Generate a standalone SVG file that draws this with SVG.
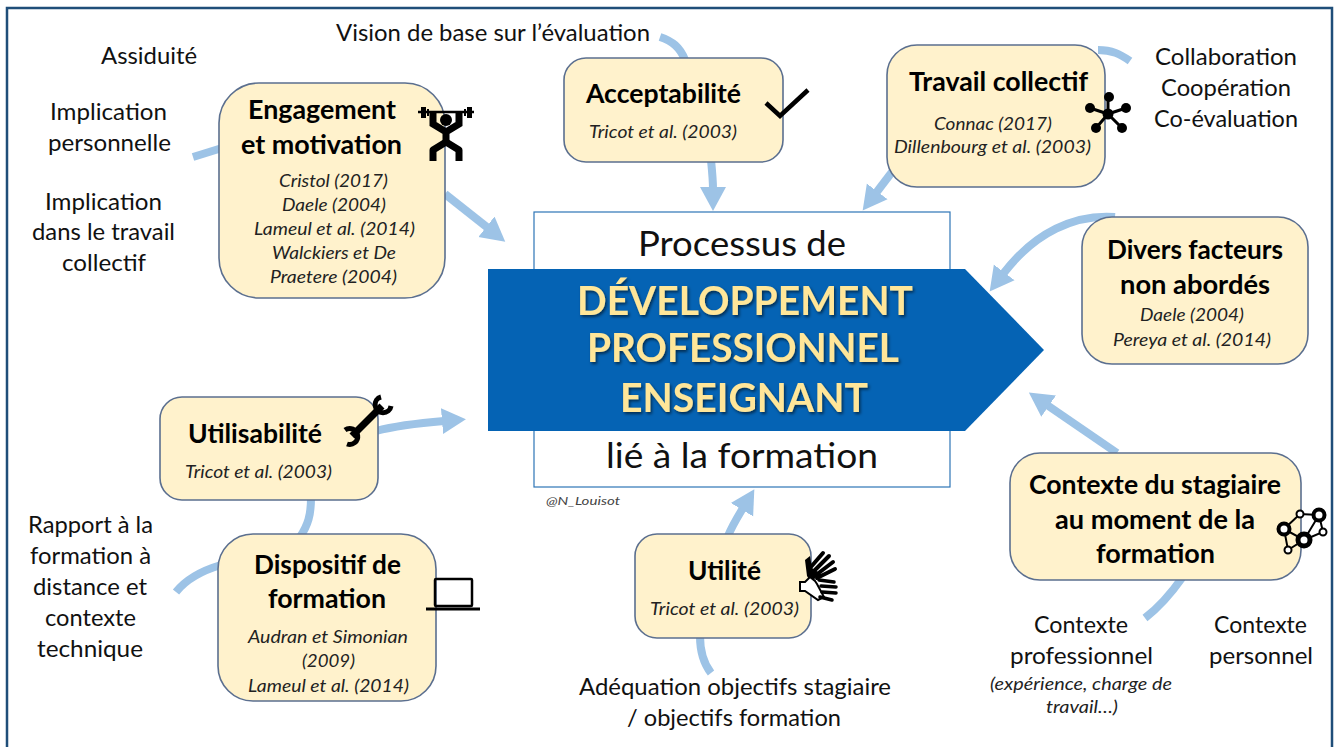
<svg xmlns="http://www.w3.org/2000/svg" width="1334" height="747" viewBox="0 0 1334 747">
<style>
text{font-family:Lato,"Noto Sans",sans-serif;fill:#111}
.t{font-size:24px}
.b{font-size:26px;font-weight:700;fill:#000}
.r{font-size:17px;font-style:italic;fill:#222}
.h{font-size:40px;font-weight:700;fill:#ffe699;filter:url(#sh)}
.big{font-size:34px}
.box{fill:#fff2cc;stroke:#5b6f8f;stroke-width:1.6}
.c{fill:none;stroke:#9dc3e6;stroke-width:8}
.a{marker-end:url(#ah)}
.i{fill:#000;stroke:none}
.l{fill:none;stroke:#000}
</style>
<defs>
<marker id="ah" markerUnits="userSpaceOnUse" markerWidth="26" markerHeight="28" refX="2" refY="14" orient="auto"><path d="M0 1L24 14L0 27Z" fill="#9dc3e6"/></marker>
<filter id="sh" x="-5%" y="-15%" width="110%" height="135%"><feDropShadow dx="1.5" dy="2" stdDeviation="1.5" flood-color="#000" flood-opacity=".55"/></filter>
</defs>
<rect width="1334" height="747" fill="#fff"/>
<rect x="7" y="8" width="1325" height="760" fill="none" stroke="#1f4e79" stroke-width="2.5"/>
<g id="connectors">
<path class="c" d="M193 157L222 148"/>
<path class="c a" d="M445 194L488 228"/>
<path class="c" d="M660 37C672 41 680 47 685 60"/>
<path class="c a" d="M711 160C712 170 713 180 713 189"/>
<path class="c a" d="M892 172L876 193"/>
<path class="c" d="M1098 50C1112 50 1120 54 1130 61"/>
<path class="c a" d="M1115 217C1075 214 1035 232 1003 274"/>
<path class="c a" d="M1117 453L1047 405"/>
<path class="c" d="M1182 578C1170 595 1158 608 1145 618"/>
<path class="c a" d="M728 536C732 526 737 518 743 508"/>
<path class="c" d="M700 636C700 652 704 664 711 673"/>
<path class="c a" d="M376 431C395 426 420 423 444 421"/>
<path class="c" d="M311 498C311 515 308 525 300 537"/>
<path class="c" d="M176 592C188 577 204 570 221 565"/>
</g>
<g id="central">
<rect x="534" y="212" width="416" height="275" fill="#fff" stroke="#2e75b6" stroke-width="1.2"/>
<text class="big" x="638" y="256" textLength="208" lengthAdjust="spacingAndGlyphs">Processus de</text>
<text class="big" x="606" y="468" textLength="272" lengthAdjust="spacingAndGlyphs">lié à la formation</text>
<path d="M488 269H965L1044 350L965 431H488Z" fill="#0563b4"/>
<text class="h" x="577" y="315" textLength="336" lengthAdjust="spacingAndGlyphs">DÉVELOPPEMENT</text>
<text class="h" x="587" y="362" textLength="312" lengthAdjust="spacingAndGlyphs">PROFESSIONNEL</text>
<text class="h" x="620" y="412" textLength="248" lengthAdjust="spacingAndGlyphs">ENSEIGNANT</text>
<text x="546" y="505" textLength="74" lengthAdjust="spacingAndGlyphs" style="font-size:12px;font-style:italic;fill:#444">@N_Louisot</text>
</g>
<g id="node-engagement">
<rect class="box" x="219" y="83" width="226" height="215" rx="40"/>
<text class="b" x="248" y="119" textLength="148" lengthAdjust="spacingAndGlyphs">Engagement</text>
<text class="b" x="241" y="154" textLength="161" lengthAdjust="spacingAndGlyphs">et motivation</text>
<text class="r" x="279" y="187" textLength="109" lengthAdjust="spacingAndGlyphs">Cristol (2017)</text>
<text class="r" x="282" y="211" textLength="104" lengthAdjust="spacingAndGlyphs">Daele (2004)</text>
<text class="r" x="254" y="235" textLength="161" lengthAdjust="spacingAndGlyphs">Lameul et al. (2014)</text>
<text class="r" x="272" y="259" textLength="124" lengthAdjust="spacingAndGlyphs">Walckiers et De</text>
<text class="r" x="270" y="283" textLength="127" lengthAdjust="spacingAndGlyphs">Praetere (2004)</text>
<g id="icon-lifter">
<path class="l" stroke-width="2.5" d="M418 112H474"/>
<path class="i" d="M421 107h5v11h-5zM467 107h5v11h-5zM427 109h2v7h-2zM464 109h2v7h-2z"/>
<circle class="i" cx="446" cy="120" r="6"/>
<path class="l" stroke-width="7" d="M433 113V124L446 132L459 124V113M446 130V144"/>
<path class="l" stroke-width="7" stroke-linejoin="round" d="M433 161V150L446 142L459 150V161"/>
</g>
</g>
<g id="node-acceptabilite">
<rect class="box" x="564" y="58" width="219" height="104" rx="22"/>
<text class="b" x="586" y="103" textLength="155" lengthAdjust="spacingAndGlyphs">Acceptabilité</text>
<text class="r" x="589" y="138" textLength="148" lengthAdjust="spacingAndGlyphs">Tricot et al. (2003)</text>
<path class="l" stroke-width="4.5" d="M766 103L780 116L808 90"/>
</g>
<g id="node-travail">
<rect class="box" x="887" y="45" width="218" height="142" rx="30"/>
<text class="b" x="909" y="91" textLength="179" lengthAdjust="spacingAndGlyphs">Travail collectif</text>
<text class="r" x="934" y="130" textLength="118" lengthAdjust="spacingAndGlyphs">Connac (2017)</text>
<text class="r" x="894" y="153" textLength="197" lengthAdjust="spacingAndGlyphs">Dillenbourg et al. (2003)</text>
<g id="icon-network">
<path class="l" stroke-width="3" d="M1108 114V97M1108 114L1090 108M1108 114L1126 108M1108 114L1096 128M1108 114L1122 128"/>
<circle class="i" cx="1108" cy="114" r="5.5"/><circle class="i" cx="1109" cy="97" r="5"/><circle class="i" cx="1090" cy="108" r="5"/><circle class="i" cx="1126" cy="108" r="5"/><circle class="i" cx="1096" cy="128" r="5"/><circle class="i" cx="1122" cy="128" r="5"/>
</g>
</g>
<g id="node-divers">
<rect class="box" x="1082" y="217" width="226" height="147" rx="30"/>
<text class="b" x="1107" y="259" textLength="176" lengthAdjust="spacingAndGlyphs">Divers facteurs</text>
<text class="b" x="1120" y="294" textLength="150" lengthAdjust="spacingAndGlyphs">non abordés</text>
<text class="r" x="1140" y="321" textLength="104" lengthAdjust="spacingAndGlyphs">Daele (2004)</text>
<text class="r" x="1113" y="346" textLength="158" lengthAdjust="spacingAndGlyphs">Pereya et al. (2014)</text>
</g>
<g id="node-utilisabilite">
<rect class="box" x="160" y="397" width="218" height="103" rx="22"/>
<text class="b" x="188" y="443" textLength="134" lengthAdjust="spacingAndGlyphs">Utilisabilité</text>
<text class="r" x="185" y="478" textLength="147" lengthAdjust="spacingAndGlyphs">Tricot et al. (2003)</text>
<g id="icon-wrench">
<path class="l" stroke-width="7" d="M352 436L382 406"/>
<path class="l" stroke-width="5" d="M381 397A8 8 0 1 0 391 406"/>
<path class="l" stroke-width="5" d="M345 430A8 8 0 1 1 347 444"/>
</g>
</g>
<g id="node-dispositif">
<rect class="box" x="218" y="534" width="218" height="167" rx="35"/>
<text class="b" x="254" y="574" textLength="147" lengthAdjust="spacingAndGlyphs">Dispositif de</text>
<text class="b" x="268" y="608" textLength="118" lengthAdjust="spacingAndGlyphs">formation</text>
<text class="r" x="248" y="643" textLength="160" lengthAdjust="spacingAndGlyphs">Audran et Simonian</text>
<text class="r" x="302" y="667" textLength="53" lengthAdjust="spacingAndGlyphs">(2009)</text>
<text class="r" x="248" y="692" textLength="161" lengthAdjust="spacingAndGlyphs">Lameul et al. (2014)</text>
<rect class="l" stroke-width="2.5" x="435" y="579" width="37" height="27" rx="1"/>
<path class="l" stroke-width="3" d="M426 609H480"/>
</g>
<g id="node-utilite">
<rect class="box" x="635" y="534" width="176" height="104" rx="22"/>
<text class="b" x="688" y="580" textLength="73" lengthAdjust="spacingAndGlyphs">Utilité</text>
<text class="r" x="650" y="615" textLength="149" lengthAdjust="spacingAndGlyphs">Tricot et al. (2003)</text>
<g id="icon-hands">
<path class="i" d="M805 560L810 556L812 568L818 572L812 584L807 576Z"/>
<path class="l" stroke-width="4" stroke-linecap="round" d="M810 568L823 553M813 572L829 556M816 575L833 562M817 578L835 569"/>
<path d="M800 582H805L810 577L815 581L817 584L824 597L818 600L805 591H800Z" fill="#fff" stroke="#000" stroke-width="2"/>
<path class="l" stroke-width="3.5" stroke-linecap="round" d="M819 580L834 582M821 586L836 587M822 592L836 593M820 597L832 600"/>
</g>
</g>
<g id="node-contexte">
<rect class="box" x="1010" y="453" width="291" height="127" rx="30"/>
<text class="b" x="1029" y="494" textLength="252" lengthAdjust="spacingAndGlyphs">Contexte du stagiaire</text>
<text class="b" x="1055" y="529" textLength="200" lengthAdjust="spacingAndGlyphs">au moment de la</text>
<text class="b" x="1096" y="563" textLength="119" lengthAdjust="spacingAndGlyphs">formation</text>
<g id="icon-molecule" fill="#fff" stroke="#000">
<path fill="none" stroke-width="2" d="M1284 529L1300 514L1319 515L1323 532L1304 540L1288 550L1284 529L1304 540L1319 515"/>
<circle cx="1300" cy="514" r="3.5" stroke-width="2"/><circle cx="1323" cy="532" r="3.5" stroke-width="2"/><circle cx="1288" cy="550" r="3.5" stroke-width="2"/>
<circle cx="1284" cy="529" r="5.5" stroke-width="4"/><circle cx="1319" cy="515" r="5.5" stroke-width="4"/><circle cx="1304" cy="540" r="6" stroke-width="5"/>
</g>
</g>
<g id="labels">
<text class="t" x="101" y="64" textLength="96" lengthAdjust="spacingAndGlyphs">Assiduité</text>
<text class="t" x="50" y="120" textLength="117" lengthAdjust="spacingAndGlyphs">Implication</text>
<text class="t" x="48" y="151" textLength="123" lengthAdjust="spacingAndGlyphs">personnelle</text>
<text class="t" x="45" y="210" textLength="117" lengthAdjust="spacingAndGlyphs">Implication</text>
<text class="t" x="32" y="240" textLength="143" lengthAdjust="spacingAndGlyphs">dans le travail</text>
<text class="t" x="62" y="271" textLength="84" lengthAdjust="spacingAndGlyphs">collectif</text>
<text class="t" x="336" y="41" textLength="314" lengthAdjust="spacingAndGlyphs">Vision de base sur l’évaluation</text>
<text class="t" x="1155" y="65" textLength="142" lengthAdjust="spacingAndGlyphs">Collaboration</text>
<text class="t" x="1161" y="96" textLength="130" lengthAdjust="spacingAndGlyphs">Coopération</text>
<text class="t" x="1154" y="127" textLength="144" lengthAdjust="spacingAndGlyphs">Co-évaluation</text>
<text class="t" x="28" y="533" textLength="125" lengthAdjust="spacingAndGlyphs">Rapport à la</text>
<text class="t" x="30" y="564" textLength="121" lengthAdjust="spacingAndGlyphs">formation à</text>
<text class="t" x="33" y="595" textLength="114" lengthAdjust="spacingAndGlyphs">distance et</text>
<text class="t" x="45" y="626" textLength="91" lengthAdjust="spacingAndGlyphs">contexte</text>
<text class="t" x="37" y="657" textLength="106" lengthAdjust="spacingAndGlyphs">technique</text>
<text class="t" x="579" y="695" textLength="312" lengthAdjust="spacingAndGlyphs">Adéquation objectifs stagiaire</text>
<text class="t" x="627" y="726" textLength="214" lengthAdjust="spacingAndGlyphs">/ objectifs formation</text>
<text class="t" x="1034" y="633" textLength="94" lengthAdjust="spacingAndGlyphs">Contexte</text>
<text class="t" x="1010" y="664" textLength="143" lengthAdjust="spacingAndGlyphs">professionnel</text>
<text class="r" x="990" y="690" textLength="182" lengthAdjust="spacingAndGlyphs">(expérience, charge de</text>
<text class="r" x="1046" y="713" textLength="72" lengthAdjust="spacingAndGlyphs">travail…)</text>
<text class="t" x="1214" y="633" textLength="93" lengthAdjust="spacingAndGlyphs">Contexte</text>
<text class="t" x="1209" y="664" textLength="104" lengthAdjust="spacingAndGlyphs">personnel</text>
</g>
</svg>
